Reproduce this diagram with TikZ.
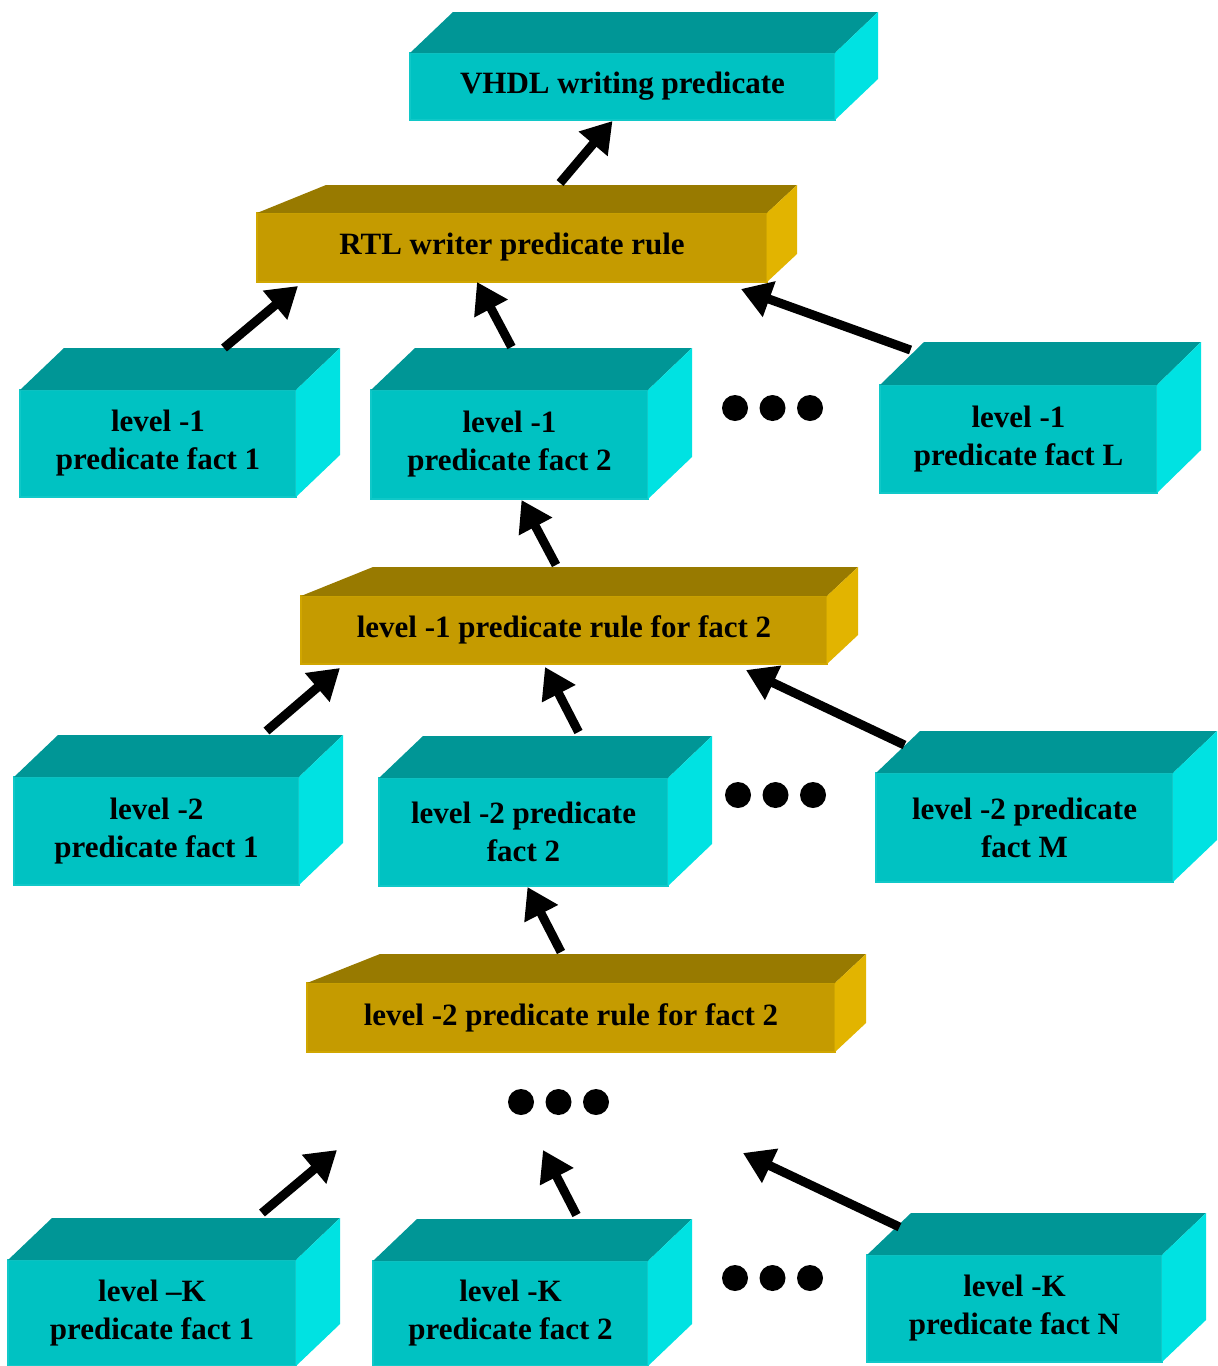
\documentclass[tikz,border=0pt]{standalone}
\usepackage{fontspec}
\usepackage{xcolor}
\usetikzlibrary{calc,arrows.meta}

\setmainfont{Liberation Serif}

\definecolor{cfront}{RGB}{0,194,194}
\definecolor{ctop}{RGB}{0,150,150}
\definecolor{cside}{RGB}{0,226,226}
\definecolor{cedge}{RGB}{16,200,200}
\definecolor{gfront}{RGB}{197,155,0}
\definecolor{gtop}{RGB}{152,122,0}
\definecolor{gside}{RGB}{226,180,0}
\definecolor{gedge}{RGB}{208,166,0}

\newcommand{\boxfont}{\fontsize{15.5}{19}\selectfont\bfseries}

% top and right faces of a box: name, left dx, right dx, depth, top colour, side colour
\newcommand{\prism}[6]{
	\fill[#5] (#1.north west) -- ++(#2,-#4) -- ($(#1.north east)+(#3,-#4)$) -- (#1.north east) -- cycle;
	\fill[#6] (#1.north east) -- ++(#3,-#4) -- ($(#1.south east)+(#3,-#4)$) -- (#1.south east) -- cycle;
}

\tikzset{
	boxsize/.style 2 args={minimum width=#1*0.5pt, minimum height=#2*0.5pt},
	cyanbox/.style={fill=cfront, draw=cedge, line width=0.6pt, inner sep=0pt, outer sep=0pt, align=center, font=\boxfont},
	goldbox/.style={fill=gfront, draw=gedge, line width=0.6pt, inner sep=0pt, outer sep=0pt, align=center, font=\boxfont},
	arr/.style={line width=4.5pt, -{Triangle[width=18pt,length=15pt]}},
}

\begin{document}
\begin{tikzpicture}[x=0.5pt,y=-0.5pt]
	\useasboundingbox (0,0) rectangle (1217,1366);

	% top
	\node[cyanbox, boxsize={425}{67}] (vhdl) at (622.5,86.5) {VHDL writing predicate};
	\prism{vhdl}{43}{43}{41}{ctop}{cside}
	\node[goldbox, boxsize={510}{69}] (rtl) at (512,247.5) {RTL writer predicate rule};
	\prism{rtl}{69}{30}{28}{gtop}{gside}

	% level -1
	\node[cyanbox, boxsize={276}{107}] (f11) at (158,443.5) {level -1\\predicate fact 1};
	\prism{f11}{44}{44}{42}{ctop}{cside}
	\node[cyanbox, boxsize={277}{109}] (f12) at (509.5,444.5) {level -1\\predicate fact 2};
	\prism{f12}{44}{44}{42}{ctop}{cside}
	\node[cyanbox, boxsize={277}{108}] (f1L) at (1018.5,439) {level -1\\predicate fact L};
	\prism{f1L}{44}{44}{43}{ctop}{cside}
	\node[goldbox, boxsize={526}{68}] (r1) at (564,630) {level -1 predicate rule for fact 2};
	\prism{r1}{72}{31}{29}{gtop}{gside}

	% level -2
	\node[cyanbox, boxsize={285}{108}] (f21) at (156.5,831) {level -2\\predicate fact 1};
	\prism{f21}{44}{44}{42}{ctop}{cside}
	\node[cyanbox, boxsize={289}{108}] (f22) at (523.5,832) {level -2 predicate\\fact 2};
	\prism{f22}{44}{44}{42}{ctop}{cside}
	\node[cyanbox, boxsize={297}{109}] (f2M) at (1024.5,827.5) {level -2 predicate\\fact M};
	\prism{f2M}{44}{44}{42}{ctop}{cside}
	\node[goldbox, boxsize={528}{69}] (r2) at (571,1017.5) {level -2 predicate rule for fact 2};
	\prism{r2}{73}{31}{29}{gtop}{gside}

	% level -K
	\node[cyanbox, boxsize={288}{106}] (fK1) at (152,1313) {level --K\\predicate fact 1};
	\prism{fK1}{44}{44}{42}{ctop}{cside}
	\node[cyanbox, boxsize={275}{105}] (fK2) at (510.5,1313.5) {level -K\\predicate fact 2};
	\prism{fK2}{44}{44}{42}{ctop}{cside}
	\node[cyanbox, boxsize={295}{107}] (fKN) at (1014.5,1308.5) {level -K\\predicate fact N};
	\prism{fKN}{44}{44}{42}{ctop}{cside}

	% dots
	\foreach \dx/\dy in {735/408, 738/795, 521/1102, 735/1278}
		\foreach \i in {0,1,2}
			\fill (\dx+37.5*\i,\dy) circle[radius=6.5pt];

	\coordinate (gapL) at (337,1150);
	\coordinate (gapM) at (543,1150);
	\coordinate (gapR) at (743,1153);

	% arrows
	\draw[arr] ($(rtl.north)+(48,-30)$) -- ($(vhdl.south)+(-10,1)$);
	\draw[arr] ($(f11.north)+(66,-42)$) -- ($(rtl.south west)+(41,4)$);
	\draw[arr] ($(f12.north)+(2,-43)$) -- ($(rtl.south)+(-35,0)$);
	\draw[arr] ($(f1L.north)+(-108,-35)$) -- ($(rtl.south east)+(-26,7)$);
	\draw[arr] ($(r1.north)+(-8,-31)$) -- ($(f12.south)+(12,1)$);
	\draw[arr] ($(f21.north)+(110,-46)$) -- ($(r1.south west)+(39,4)$);
	\draw[arr] ($(f22.north)+(55,-46)$) -- ($(r1.south)+(-19,3)$);
	\draw[arr] ($(f2M.north)+(-120,-28)$) -- ($(r1.south east)+(-81,6)$);
	\draw[arr] ($(r2.north)+(-10,-31)$) -- ($(f22.south)+(4,1)$);
	\draw[arr] ($(fK1.north)+(110,-47)$) -- (gapL);
	\draw[arr] ($(fK2.north)+(66,-46)$) -- (gapM);
	\draw[arr] ($(fKN.north)+(-115,-28)$) -- (gapR);
\end{tikzpicture}
\end{document}
